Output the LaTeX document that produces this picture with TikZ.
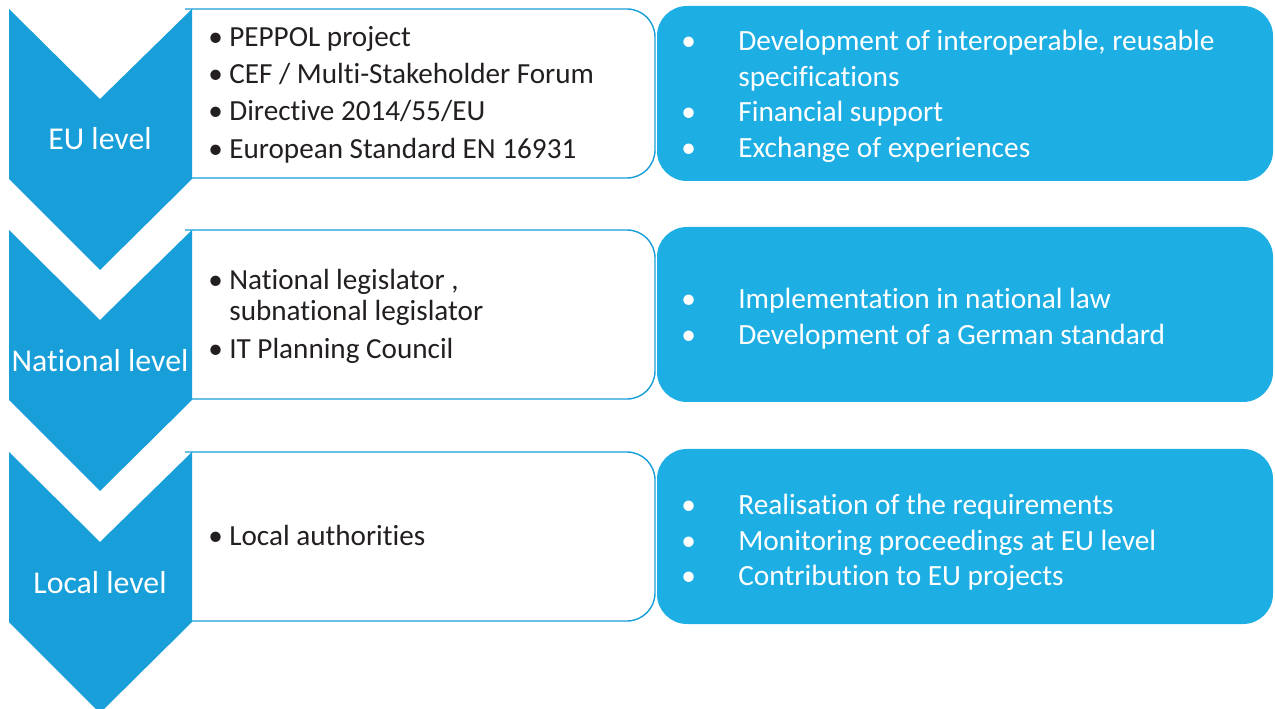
\documentclass[tikz,border=0pt]{standalone}
\usepackage{fontspec}
\setmainfont{Carlito}[Ligatures={NoCommon}]
\definecolor{chevblue}{HTML}{189ED8}
\definecolor{taskblue}{HTML}{1DAEE3}
\definecolor{inktext}{HTML}{231F20}
\tikzset{
  levellabel/.style={text=white, inner sep=0pt, font=\fontsize{18.1}{21}\selectfont},
  actortext/.style={anchor=west, text=inktext, inner sep=0pt, font=\fontsize{16.6}{17.6}\selectfont},
  tasktext/.style={anchor=west, text=white, inner sep=0pt, font=\fontsize{16.7}{20.2}\selectfont}
}
\begin{document}
\begin{tikzpicture}[x=0.02cm, y=-0.02cm]
    \useasboundingbox (0,0) rectangle (1275,709);

    % Three rows: task box, actor box, then the level chevron on top
    \foreach \t in {9,230,452} {
        \fill[taskblue, rounded corners=0.6cm] (657,\t-3) rectangle (1273,\t+172);
        \filldraw[fill=white, draw=chevblue, line width=0.8pt, rounded corners=0.56cm]
            (185,\t) -- (655,\t) -- (655,\t+169) -- (185,\t+169);
        \fill[chevblue] (9,\t) -- (100,\t+90) -- (192,\t) -- (192,\t+170)
            -- (100,\t+261) -- (9,\t+170) -- cycle;
    }

    % Level names in the chevrons
    \node[levellabel] (eulevel) at (100,139) {EU level};
    \node[levellabel] (natlevel) at (100,361) {National level};
    \node[levellabel] (loclevel) at (100,583) {Local level};

    % Actors
    \node[actortext] (euactors) at (208,96) {\begin{tabular}{@{}p{0.42cm}@{}l@{}}
        \textbullet & PEPPOL project\\[3.7pt]
        \textbullet & CEF / Multi-Stakeholder Forum\\[3.7pt]
        \textbullet & Directive 2014/55/EU\\[3.7pt]
        \textbullet & European Standard EN 16931
    \end{tabular}};
    \node[actortext] (natactors) at (208,318) {\begin{tabular}{@{}p{0.42cm}@{}l@{}}
        \textbullet & National legislator ,\\
                    & subnational legislator\\[3.8pt]
        \textbullet & IT Planning Council
    \end{tabular}};
    \node[actortext] (locactors) at (208,539.5) {\begin{tabular}{@{}p{0.42cm}@{}l@{}}
        \textbullet & Local authorities
    \end{tabular}};

    % Tasks
    \node[tasktext] (eutasks) at (681,97) {\begin{tabular}{@{}p{1.14cm}@{}l@{}}
        \textbullet & Development of interoperable, reusable\\
                    & specifications\\
        \textbullet & Financial support\\
        \textbullet & Exchange of experiences
    \end{tabular}};
    \node[tasktext] (nattasks) at (681,319.5) {\begin{tabular}{@{}p{1.14cm}@{}l@{}}
        \textbullet & Implementation in national law\\
        \textbullet & Development of a German standard
    \end{tabular}};
    \node[tasktext] (loctasks) at (681,543) {\begin{tabular}{@{}p{1.14cm}@{}l@{}}
        \textbullet & Realisation of the requirements\\
        \textbullet & Monitoring proceedings at EU level\\
        \textbullet & Contribution to EU projects
    \end{tabular}};
\end{tikzpicture}
\end{document}
